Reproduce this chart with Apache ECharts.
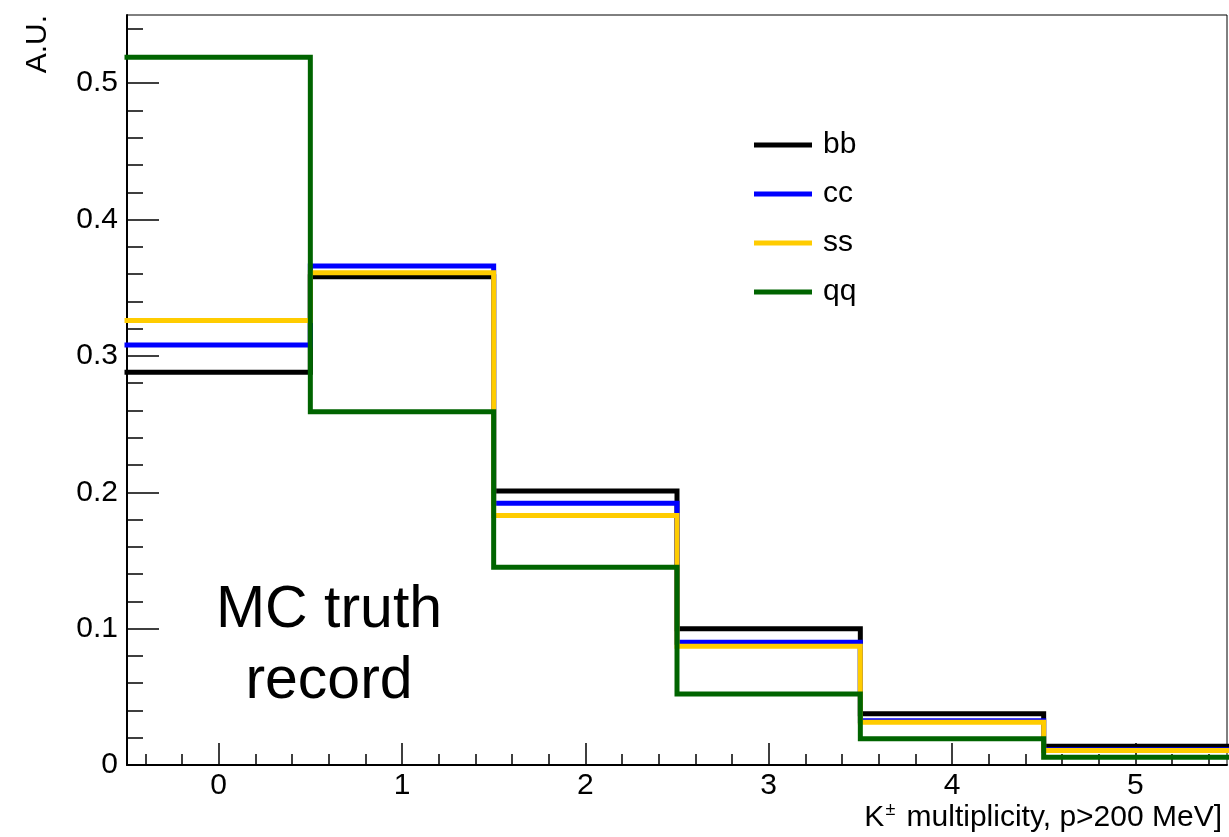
<!DOCTYPE html>
<html>
<head>
<meta charset="utf-8">
<script src="https://cdn.jsdelivr.net/npm/echarts@6/dist/echarts.min.js"></script>
<style>html,body{margin:0;padding:0;background:#fff;}#c{width:1229px;height:837px;}</style>
</head>
<body>
<div id="c"></div>
<script>
// ---- data ----
const binEdges = [-0.5, 0.5, 1.5, 2.5, 3.5, 4.5, 5.5];
const seriesNames = ['bb', 'cc', 'ss', 'qq'];
const bbValues = [0.288, 0.358, 0.201, 0.100, 0.0376, 0.0138];
const ccValues = [0.308, 0.366, 0.192, 0.090, 0.0325, 0.0112];
const ssValues = [0.326, 0.361, 0.183, 0.087, 0.0314, 0.0106];
const qqValues = [0.519, 0.259, 0.145, 0.052, 0.0192, 0.0057];
const xMajorTicks = [0, 1, 2, 3, 4, 5];
const xMinorTicks = [-0.4, -0.2, 0.2, 0.4, 0.6, 0.8, 1.2, 1.4, 1.6, 1.8, 2.2, 2.4, 2.6, 2.8, 3.2, 3.4, 3.6, 3.8, 4.2, 4.4, 4.6, 4.8, 5.2, 5.4];
const yMajorTicks = [0, 0.1, 0.2, 0.3, 0.4, 0.5];
const yMinorTicks = [0.02, 0.04, 0.06, 0.08, 0.12, 0.14, 0.16, 0.18, 0.22, 0.24, 0.26, 0.28, 0.32, 0.34, 0.36, 0.38, 0.42, 0.44, 0.46, 0.48, 0.52, 0.54];
const xTitle = 'K{sup|±} multiplicity, p>200 MeV]';
const yTitle = 'A.U.';
const noteLines = ['MC truth', 'record'];

const colors = ['#000000', '#0000ff', '#ffcc00', '#006400'];
const allValues = [bbValues, ccValues, ssValues, qqValues];
const FONT = '"Liberation Sans", Arial, Helvetica, sans-serif';

function histPoints(vals) {
  const pts = [];
  for (let i = 0; i < vals.length; i++) pts.push([binEdges[i], vals[i]]);
  pts.push([binEdges[vals.length], vals[vals.length - 1]]);
  return pts;
}

const chart = echarts.init(document.getElementById('c'), null, {renderer: 'canvas'});
const xBase = {type: 'value', min: -0.5, max: 5.5, splitLine: {show: false}, gridIndex: 0};
const yBase = {type: 'value', min: 0, max: 0.55, splitLine: {show: false}, gridIndex: 0};

const option = {
  animation: false,
  backgroundColor: '#fff',
  textStyle: {fontFamily: FONT},
  grid: {left: 127, right: 2, top: 15, bottom: 72, show: true, borderColor: '#000', borderWidth: 1, containLabel: false},
  xAxis: [
    Object.assign({}, xBase, {
      position: 'bottom',
      axisLine: {show: true, onZero: false, lineStyle: {color: '#000', width: 2}},
      axisTick: {show: true, inside: true, length: 11, lineStyle: {color: '#000', width: 1.5}, customValues: xMinorTicks},
      axisLabel: {show: false}
    }),
    Object.assign({}, xBase, {
      position: 'bottom',
      axisLine: {show: false, onZero: false},
      axisTick: {show: true, inside: true, length: 22, lineStyle: {color: '#000', width: 1.5}, customValues: xMajorTicks},
      axisLabel: {show: true, customValues: xMajorTicks, color: '#000', fontSize: 30, fontFamily: FONT, margin: 6, formatter: v => String(v)}
    })
  ],
  yAxis: [
    Object.assign({}, yBase, {
      position: 'left',
      axisLine: {show: true, onZero: false, lineStyle: {color: '#000', width: 2}},
      axisTick: {show: true, inside: true, length: 16, lineStyle: {color: '#000', width: 1.5}, customValues: yMinorTicks},
      axisLabel: {show: false}
    }),
    Object.assign({}, yBase, {
      position: 'left',
      axisLine: {show: false, onZero: false},
      axisTick: {show: true, inside: true, length: 32, lineStyle: {color: '#000', width: 1.5}, customValues: yMajorTicks},
      axisLabel: {show: true, customValues: yMajorTicks, color: '#000', fontSize: 30, fontFamily: FONT, margin: 9, formatter: v => (v === 0 ? '0' : v.toFixed(1))}
    })
  ],
  legend: {
    orient: 'vertical',
    left: 754,
    top: 130,
    padding: 0,
    itemGap: 19,
    itemWidth: 58,
    itemHeight: 5,
    icon: 'rect',
    data: seriesNames,
    textStyle: {color: '#000', fontSize: 30, fontFamily: FONT, lineHeight: 30, padding: [0, 0, 0, 6]}
  },
  series: seriesNames.map((name, i) => ({
    name: name,
    type: 'line',
    xAxisIndex: 0,
    yAxisIndex: 0,
    step: 'end',
    symbol: 'none',
    clip: true,
    z: 2 + i,
    data: histPoints(allValues[i]),
    lineStyle: {color: colors[i], width: 5, cap: 'square', join: 'miter'},
    itemStyle: {color: colors[i]}
  })),
  graphic: [
    {type: 'text', x: 38, y: 15, rotation: Math.PI / 2, z: 10,
     style: {text: yTitle, fill: '#000', font: '30px ' + FONT, textAlign: 'right', textVerticalAlign: 'middle'}},
    {type: 'text', x: 1222, y: 818, z: 10,
     style: {text: xTitle, fill: '#000', fontSize: 30, fontFamily: FONT, textAlign: 'right', textVerticalAlign: 'middle',
             rich: {sup: {fontSize: 18, fontFamily: FONT, fill: '#000', verticalAlign: 'top', padding: [0, 3, 15, 1]}}}},
    {type: 'text', x: 329, y: 611, z: 10,
     style: {text: noteLines[0], fill: '#000', font: '59px ' + FONT, textAlign: 'center', textVerticalAlign: 'middle'}},
    {type: 'text', x: 329, y: 682, z: 10,
     style: {text: noteLines[1], fill: '#000', font: '59px ' + FONT, textAlign: 'center', textVerticalAlign: 'middle'}}
  ]
};
chart.setOption(option);
</script>
</body>
</html>
